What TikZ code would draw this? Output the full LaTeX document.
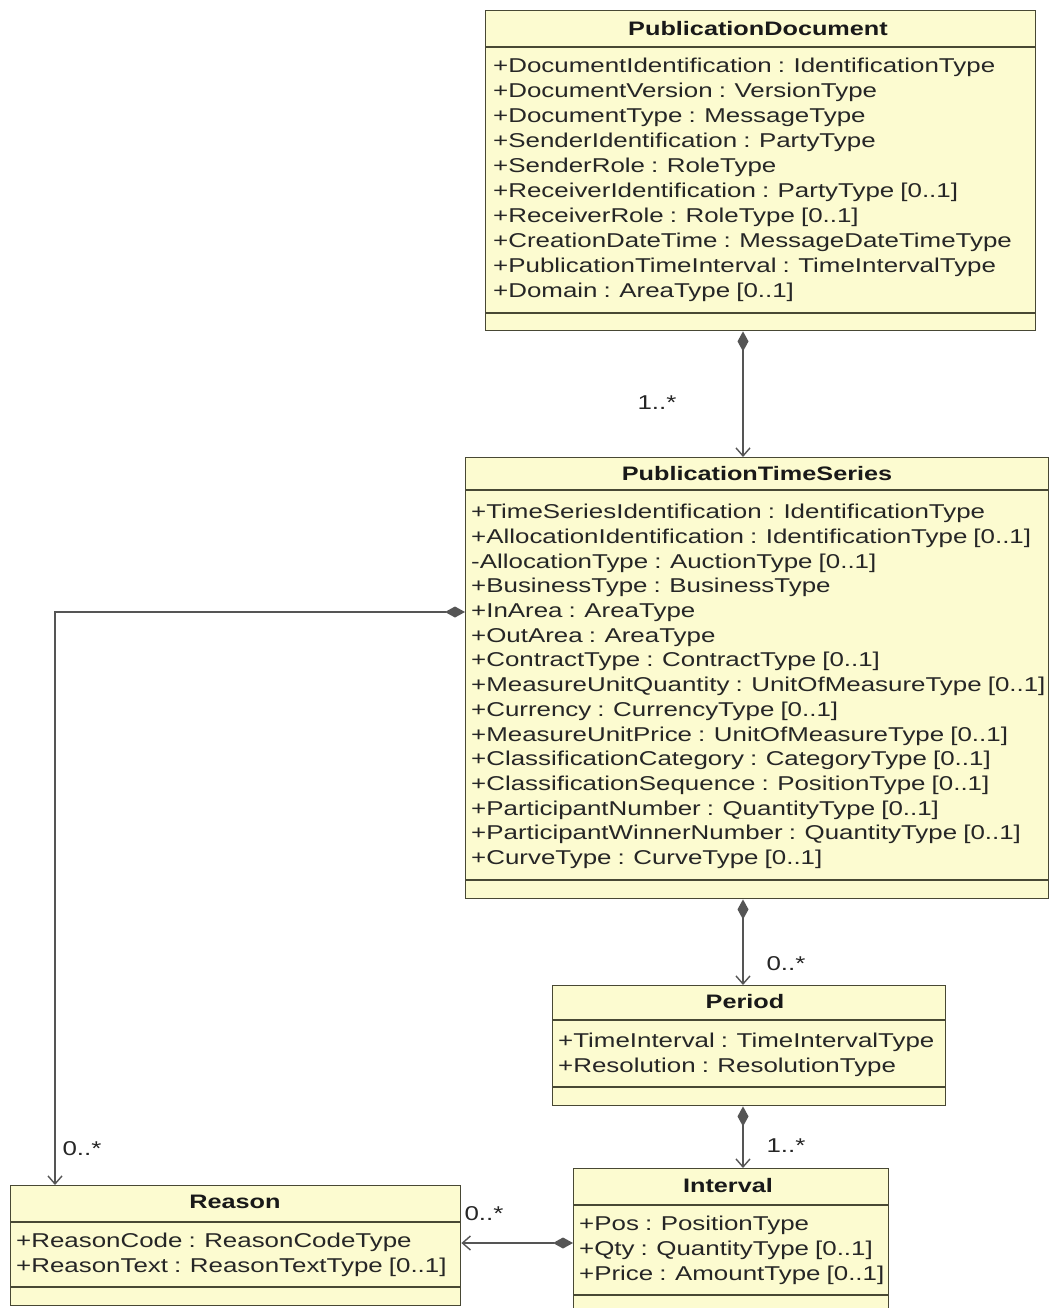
\documentclass[tikz,border=0pt]{standalone}
\usepackage{fontspec}
\setmainfont{Liberation Sans}[FakeStretch=1.295, WordSpace=0.85]
\usetikzlibrary{arrows.meta}

\definecolor{classfill}{RGB}{252,251,208}
\definecolor{classedge}{RGB}{72,72,52}
\definecolor{linkgray}{RGB}{85,85,85}

\begin{document}
\begin{tikzpicture}[x=1pt, y=-1pt,
  umlfont/.style={font=\fontsize{20}{25}\selectfont},
  classbox/.style={draw=classedge, fill=classfill, line width=1.4pt, inner sep=0pt, anchor=north west},
  sepline/.style={draw=classedge, line width=1.4pt},
  classtitle/.style={font=\fontsize{19.5}{25}\selectfont\bfseries, inner sep=0pt, text=black!90},
  attrs/.style={umlfont, align=left, anchor=north west, inner sep=0pt, text=black!85},
  mult/.style={umlfont, inner sep=0pt, text=black!85},
  comp/.style={draw=linkgray, line width=1.4pt,
    {Diamond[length=20pt, width=11pt, fill=linkgray]}-{Straight Barb[length=8pt, width=14pt]}}]
  \useasboundingbox[fill=white] (0,0) rectangle (1050,1308);

  % PublicationDocument
  \node[classbox, minimum width=550pt, minimum height=320pt] (doc) at (485,10) {};
  \draw[sepline] (485,47) -- (1035,47);
  \draw[sepline] (485,313) -- (1035,313);
  \node[classtitle] (doctitle) at (758,29) {PublicationDocument};
  \node[attrs] (docattrs) at (493,58) {%
    +DocumentIdentification : IdentificationType\\
    +DocumentVersion : VersionType\\
    +DocumentType : MessageType\\
    +SenderIdentification : PartyType\\
    +SenderRole : RoleType\\
    +ReceiverIdentification : PartyType [0..1]\\
    +ReceiverRole : RoleType [0..1]\\
    +CreationDateTime : MessageDateTimeType\\
    +PublicationTimeInterval : TimeIntervalType\\
    +Domain : AreaType [0..1]};

  % PublicationTimeSeries
  \node[classbox, minimum width=583pt, minimum height=441pt] (pts) at (465,457) {};
  \draw[sepline] (465,490) -- (1048,490);
  \draw[sepline] (465,880) -- (1048,880);
  \node[classtitle] (ptstitle) at (757,474) {PublicationTimeSeries};
  \node[attrs, font=\fontsize{20}{24.7}\selectfont] (ptsattrs) at (471,504) {%
    +TimeSeriesIdentification : IdentificationType\\
    +AllocationIdentification : IdentificationType [0..1]\\
    -AllocationType : AuctionType [0..1]\\
    +BusinessType : BusinessType\\
    +InArea : AreaType\\
    +OutArea : AreaType\\
    +ContractType : ContractType [0..1]\\
    +MeasureUnitQuantity : UnitOfMeasureType [0..1]\\
    +Currency : CurrencyType [0..1]\\
    +MeasureUnitPrice : UnitOfMeasureType [0..1]\\
    +ClassificationCategory : CategoryType [0..1]\\
    +ClassificationSequence : PositionType [0..1]\\
    +ParticipantNumber : QuantityType [0..1]\\
    +ParticipantWinnerNumber : QuantityType [0..1]\\
    +CurveType : CurveType [0..1]};

  % Period
  \node[classbox, minimum width=393pt, minimum height=120pt] (period) at (552,985) {};
  \draw[sepline] (552,1020) -- (945,1020);
  \draw[sepline] (552,1087) -- (945,1087);
  \node[classtitle] (periodtitle) at (745,1002) {Period};
  \node[attrs] (periodattrs) at (558,1033) {%
    +TimeInterval : TimeIntervalType\\
    +Resolution : ResolutionType};

  % Interval
  \node[classbox, minimum width=315pt, minimum height=160pt] (interval) at (573,1168) {};
  \draw[sepline] (573,1205) -- (888,1205);
  \draw[sepline] (573,1295) -- (888,1295);
  \node[classtitle] (intervaltitle) at (728,1186) {Interval};
  \node[attrs] (intervalattrs) at (579,1216) {%
    +Pos : PositionType\\
    +Qty : QuantityType [0..1]\\
    +Price : AmountType [0..1]};

  % Reason
  \node[classbox, minimum width=450pt, minimum height=120pt] (reason) at (10,1185) {};
  \draw[sepline] (10,1222) -- (460,1222);
  \draw[sepline] (10,1287) -- (460,1287);
  \node[classtitle] (reasontitle) at (235,1202) {Reason};
  \node[attrs] (reasonattrs) at (16,1233) {%
    +ReasonCode : ReasonCodeType\\
    +ReasonText : ReasonTextType [0..1]};

  % compositions
  \coordinate (spine) at (743,0);
  \coordinate (inarea) at (0,612);
  \coordinate (leftrail) at (55,0);
  \coordinate (posrow) at (0,1243);
  \draw[comp] (doc.south -| spine) -- (pts.north -| spine);
  \draw[comp] (pts.south -| spine) -- (period.north -| spine);
  \draw[comp] (period.south -| spine) -- (interval.north -| spine);
  \draw[comp] (pts.west |- inarea) -| (reason.north -| leftrail);
  \draw[comp] (interval.west |- posrow) -- (reason.east |- posrow);

  \node[mult] (m-doc) at (657,403) {1..*};
  \node[mult] (m-period) at (786,964) {0..*};
  \node[mult] (m-interval) at (786,1146) {1..*};
  \node[mult] (m-reasonts) at (82,1149) {0..*};
  \node[mult] (m-reasonint) at (484,1214) {0..*};
\end{tikzpicture}
\end{document}
